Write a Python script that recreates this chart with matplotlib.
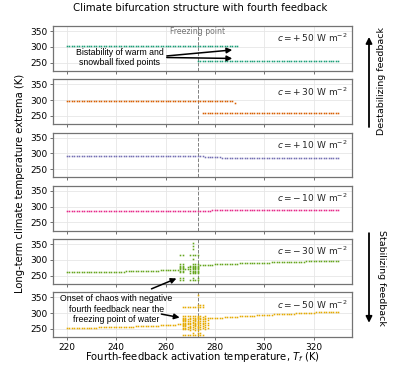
import matplotlib
matplotlib.use("Agg")
import matplotlib.pyplot as plt
from matplotlib.transforms import blended_transform_factory

plt.rcParams['font.family'] = ['DejaVu Sans']

# ---------------- data ----------------
feedback_c = [50, 30, 10, -10, -30, -50]
colors = ['#1b9e77', '#d95f02', '#7570b3', '#e7298a', '#66a61e', '#e6ab02']
Tf_all = list(range(220, 331))

# c = +50 : bistable
p50_warm_T = list(range(220, 290))
p50_warm = [301] * 70
p50_snow_T = list(range(273, 331))
p50_snow = [254] * 58

# c = +30
p30_warm_T = list(range(220, 289))
p30_warm = [296] * 68 + [291]
p30_snow_T = list(range(275, 331))
p30_snow = [259] * 56

# c = +10
p10_vals = [290] * 56 + [289.6, 289.2, 288.7, 288.2, 287.7, 287.2, 286.8, 286.4, 286.0,
                         285.7, 285.4, 285.1, 284.9, 284.7, 284.5] + [284.5] * 40

# c = -10
m10_vals = [286] * 54 + [286.2, 286.5, 286.8, 287.1, 287.4, 287.7, 288.0, 288.3, 288.6,
                         288.9, 289.2, 289.4, 289.6, 289.8, 290.0, 290.2, 290.3, 290.4,
                         290.5] + [290.6] * 38

# c = -30
m30_pre_T = list(range(220, 266))
m30_pre = [261.0, 261.1, 261.1, 261.2, 261.2, 261.3, 261.3, 261.4, 261.5, 261.5, 261.6,
           261.7, 261.8, 261.9, 262.0, 262.1, 262.2, 262.3, 262.4, 262.5, 262.6,
           262.8, 262.9, 263.0, 263.2, 263.3, 263.5, 263.7, 263.9, 264.1, 264.3, 264.5,
           264.7, 265.0, 265.2, 265.5, 265.8, 266.1, 266.4, 266.7, 267.0, 267.4, 267.8,
           268.2, 268.6, 269.0]
m30_chaos_T = [266, 267, 268, 269, 270, 271, 272, 273]
m30_chaos = [
    [236, 242, 262, 266, 270, 274, 278, 282, 286, 316],
    [236, 242, 262, 266, 270, 274, 278, 282, 286, 316],
    [272],
    [270, 278],
    [236, 258, 264, 270, 276, 282, 316],
    [236, 244, 258, 262, 266, 270, 274, 278, 282, 286, 302, 316, 334, 345, 355],
    [236, 258, 262, 266, 270, 274, 278, 282, 286, 316],
    [236, 242, 258, 262, 266, 270, 274, 278, 282, 286, 316],
]
m30_post_T = list(range(274, 331))
m30_post = [283.0, 283.4, 283.9, 284.3, 284.7, 285.1, 285.5, 285.9, 286.2, 286.5,
            286.8, 287.1, 287.4, 287.7, 288.0, 288.2, 288.5, 288.8, 289.1, 289.3,
            289.6, 289.9, 290.1, 290.4, 290.6, 290.9, 291.2, 291.4, 291.6, 291.9,
            292.1, 292.3, 292.6, 292.8, 293.0, 293.2, 293.5, 293.7, 293.9, 294.1,
            294.3, 294.5, 294.7, 294.9, 295.1, 295.3, 295.5, 295.7, 295.9, 296.1,
            296.3, 296.5, 296.6, 296.8, 296.9, 297.1, 297.2]

# c = -50
m50_pre_T = list(range(220, 267))
m50_pre = [253.0, 253.1, 253.2, 253.3, 253.4, 253.5, 253.6, 253.7, 253.8, 254.0,
           254.1, 254.3, 254.4, 254.6, 254.7, 254.9, 255.1, 255.2, 255.4, 255.6,
           255.8, 256.0, 256.2, 256.4, 256.6, 256.9, 257.1, 257.4, 257.6, 257.9,
           258.2, 258.5, 258.8, 259.1, 259.4, 259.8, 260.1, 260.5, 260.9, 261.3,
           261.8, 262.2, 262.7, 263.2, 263.7, 264.2, 264.8]
m50_chaos_T = [267, 268, 269, 270, 271, 272, 273, 274, 275, 276, 277]
m50_chaos = [
    [231, 250, 254, 258, 262, 266, 270, 274, 278, 282, 286, 290, 318],
    [231, 250, 254, 258, 262, 266, 270, 274, 278, 282, 286, 290, 318],
    [231, 250, 256, 264, 270, 276, 282, 290, 318],
    [231, 248, 252, 256, 260, 266, 270, 274, 280, 286, 290, 318],
    [231, 236, 250, 256, 262, 268, 272, 278, 284, 290, 318],
    [231, 248, 254, 258, 262, 266, 270, 274, 278, 282, 286, 290, 318],
    [231, 236, 248, 252, 256, 260, 264, 268, 272, 276, 280, 284, 288, 292, 318, 326, 358],
    [231, 236, 250, 256, 262, 268, 274, 280, 286, 292, 318, 326],
    [231, 252, 258, 264, 270, 276, 282, 288, 318, 326],
    [250, 256, 262, 268, 274, 280, 286, 292],
    [254, 262, 270, 278, 286],
]
m50_post_T = list(range(278, 331))
m50_post = [283.0, 283.6, 284.2, 284.8, 285.3, 285.9, 286.4, 287.0, 287.5, 288.0,
            288.5, 289.0, 289.5, 290.0, 290.5, 291.0, 291.4, 291.9, 292.3, 292.8,
            293.2, 293.6, 294.1, 294.5, 294.9, 295.3, 295.7, 296.1, 296.5, 296.9,
            297.3, 297.7, 298.1, 298.4, 298.8, 299.2, 299.5, 299.9, 300.2, 300.6,
            300.9, 301.3, 301.6, 302.0, 302.3, 302.6, 303.0, 303.3, 303.6, 303.9,
            304.2, 304.5, 304.8]

freezing_T = 273.15

# ---------------- figure ----------------
fig, axes = plt.subplots(6, 1, figsize=(4.0, 3.66), dpi=100, sharex=True)
fig.subplots_adjust(left=0.133, right=0.88, top=0.929, bottom=0.079, hspace=0.19)

mk = dict(marker='s', ms=1.15, ls='none', mew=0)


def flat(Ts, lists):
    xs, ys = [], []
    for t, vals in zip(Ts, lists):
        xs += [t] * len(vals)
        ys += vals
    return xs, ys


series = [
    [(p50_warm_T, p50_warm), (p50_snow_T, p50_snow)],
    [(p30_warm_T, p30_warm), (p30_snow_T, p30_snow)],
    [(Tf_all, p10_vals)],
    [(Tf_all, m10_vals)],
    [(m30_pre_T, m30_pre), flat(m30_chaos_T, m30_chaos), (m30_post_T, m30_post)],
    [(m50_pre_T, m50_pre), flat(m50_chaos_T, m50_chaos), (m50_post_T, m50_post)],
]

for ax, c, col, parts in zip(axes, feedback_c, colors, series):
    for xs, ys in parts:
        ax.plot(xs, ys, color=col, **mk)
    ax.set_ylim(224, 366)
    ax.set_yticks([250, 300, 350])
    ax.set_xlim(214.5, 335.5)
    ax.set_xticks([220, 240, 260, 280, 300, 320])
    ax.grid(True, color='0.9', lw=0.6)
    ax.set_axisbelow(True)
    ax.axvline(freezing_T, color='0.5', ls='--', lw=0.7, zorder=1)
    for s in ax.spines.values():
        s.set_color('0.45')
        s.set_linewidth(0.9)
    ax.tick_params(labelsize=6.5, length=2.5, width=0.6, color='0.35', pad=1.5)
    sign = '+' if c > 0 else '-'
    ax.text(0.985, 0.73, r'$c = %s\,%d$ W m$^{-2}$' % (sign, abs(c)),
            transform=ax.transAxes, ha='right', va='center', fontsize=6.5, color='0.15')

fig.text(0.506, 0.024, 'Fourth-feedback activation temperature, $T_f$ (K)',
         ha='center', va='center', fontsize=7.2)

fig.suptitle('Climate bifurcation structure with fourth feedback', fontsize=7.3, y=0.992)
fig.text(0.05, 0.5, 'Long-term climate temperature extrema (K)', rotation=90,
         ha='center', va='center', fontsize=7.2)

# freezing point label
tr = blended_transform_factory(axes[0].transData, axes[0].transAxes)
axes[0].text(freezing_T, 0.985, 'Freezing point', transform=tr, ha='center', va='top',
             fontsize=5.6, color='0.45')

ann_font = dict(family=['Liberation Sans', 'DejaVu Sans'], fontsize=6.3, color='k')
arrow_kw = dict(arrowstyle='-|>', color='k', lw=1.1, mutation_scale=8,
                shrinkA=0, shrinkB=0)

# bistability annotation
axes[0].text(241.5, 266, 'Bistability of warm and\nsnowball fixed points', ha='center',
             va='center', linespacing=1.25, **ann_font)
axes[0].annotate('', xy=(287, 290), xytext=(260.5, 271), arrowprops=arrow_kw,
                 annotation_clip=False)
axes[0].annotate('', xy=(287, 263), xytext=(260.5, 266), arrowprops=arrow_kw,
                 annotation_clip=False)

# chaos annotation
axes[5].text(240, 313, 'Onset of chaos with negative\nfourth feedback near the\nfreezing point of water',
             ha='center', va='center', linespacing=1.2, **ann_font)
axes[5].annotate('', xy=(265.7, 286), xytext=(258.3, 297), arrowprops=arrow_kw,
                 annotation_clip=False)
axes[4].annotate('', xy=(264.4, 241), xycoords=axes[4].transData,
                 xytext=(254.3, 377), textcoords=axes[5].transData,
                 arrowprops=arrow_kw, annotation_clip=False)

# right-side feedback arrows
big_arrow = dict(arrowstyle='-|>', color='k', lw=1.3, mutation_scale=9, shrinkA=0, shrinkB=0)
fig.add_artist(matplotlib.patches.FancyArrowPatch((0.9225, 0.653), (0.9225, 0.899),
                                                  transform=fig.transFigure, **big_arrow))
fig.add_artist(matplotlib.patches.FancyArrowPatch((0.9225, 0.363), (0.9225, 0.118),
                                                  transform=fig.transFigure, **big_arrow))
fig.text(0.953, 0.78, 'Destabilizing feedback', rotation=90, ha='center', va='center',
         fontsize=6.8)
fig.text(0.953, 0.24, 'Stabilizing feedback', rotation=270, ha='center', va='center',
         fontsize=6.8)

fig.savefig('out.png', dpi=100)
